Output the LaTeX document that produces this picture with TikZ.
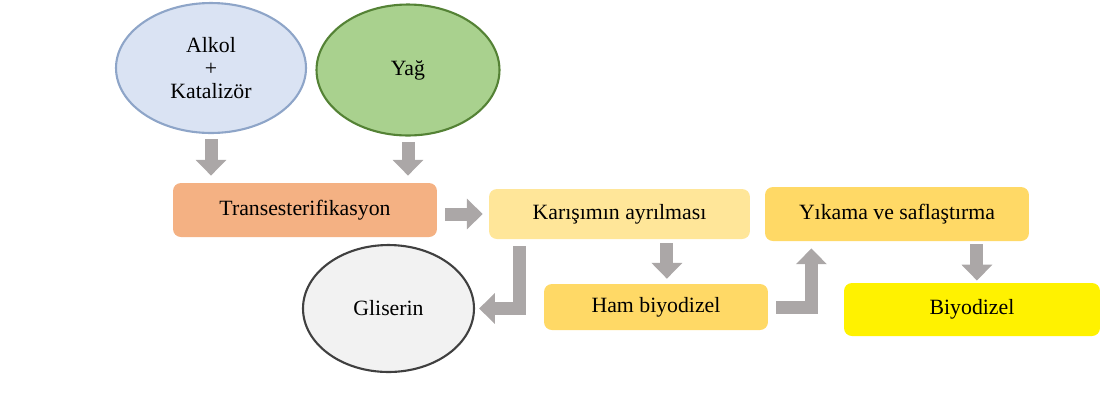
\documentclass[tikz,border=0pt]{standalone}
\usepackage{fontspec}
\setmainfont{Liberation Serif}
\usetikzlibrary{shapes.geometric,arrows.meta}

\definecolor{alkolfill}{HTML}{DAE3F3}
\definecolor{alkoldraw}{HTML}{8EA5C8}
\definecolor{yagfill}{HTML}{A9D18E}
\definecolor{yagdraw}{HTML}{548235}
\definecolor{transfill}{HTML}{F4B183}
\definecolor{lightgold}{HTML}{FFE699}
\definecolor{gold}{HTML}{FFD966}
\definecolor{glisfill}{HTML}{F2F2F2}
\definecolor{glisdraw}{HTML}{404040}
\definecolor{arrowgray}{HTML}{ABA7A7}

\begin{document}
\begin{tikzpicture}[x=0.02cm, y=-0.02cm,
    font=\fontsize{12.4}{13}\selectfont,
    oval/.style={ellipse, line width=1.2pt, inner sep=0pt, align=center},
    stage/.style={rectangle, rounded corners=4.5pt, inner sep=0pt},
    flow/.style={draw=arrowgray, line width=7.4pt, line join=miter,
        -{Triangle[width=17pt,length=9pt]}}]
\useasboundingbox (0,0) rectangle (1103,417);

% Inputs
\node[oval, fill=alkolfill, draw=alkoldraw, minimum width=3.8cm, minimum height=2.6cm]
    (alkol) at (211,68) {Alkol\\+\\Katalizör};
\node[oval, fill=yagfill, draw=yagdraw, minimum width=3.66cm, minimum height=2.62cm]
    (yag) at (408,70) {Yağ};

% Process steps
\node[stage, fill=transfill, minimum width=5.28cm, minimum height=1.08cm]
    (trans) at (305,210) {Transesterifikasyon};
\node[stage, fill=lightgold, minimum width=5.22cm, minimum height=1.0cm]
    (karisim) at (619.5,214) {Karışımın ayrılması};
\node[stage, fill=gold, minimum width=5.28cm, minimum height=1.08cm]
    (yikama) at (897,214) {Yıkama ve saflaştırma};
\node[stage, fill=gold, minimum width=4.48cm, minimum height=0.92cm]
    (ham) at (656,307) {Ham biyodizel};
\node[stage, fill=yellow, minimum width=5.12cm, minimum height=1.06cm]
    (biyo) at (972,309.5) {Biyodizel};

% By-product
\node[oval, fill=glisfill, draw=glisdraw, minimum width=3.42cm, minimum height=2.54cm]
    (gliserin) at (388.5,308.5) {Gliserin};

% Arrows
\draw[flow, shorten <=3pt, shorten >=4pt] (alkol.south) -- (alkol.south |- trans.north);
\draw[flow, shorten <=3pt, shorten >=4pt] (yag.south) -- (yag.south |- trans.north);
\draw[flow, shorten <=4.5pt, shorten >=3.4pt] (trans.east |- karisim) -- (karisim.west);
\draw[flow, shorten <=2.3pt, shorten >=2.8pt] ([xshift=6.2pt]ham.north |- karisim.south) -- ([xshift=6.2pt]ham.north);
\draw[flow, shorten <=4pt, shorten >=2.3pt] ([xshift=17.6pt]karisim.south west) |- (gliserin.east);
\draw[flow, shorten <=4.5pt, shorten >=4pt] (ham.east) -| ([xshift=26.6pt]yikama.south west);
\draw[flow, shorten <=1.7pt, shorten >=1.2pt] ([xshift=2.8pt]biyo.north |- yikama.south) -- ([xshift=2.8pt]biyo.north);
\end{tikzpicture}
\end{document}
